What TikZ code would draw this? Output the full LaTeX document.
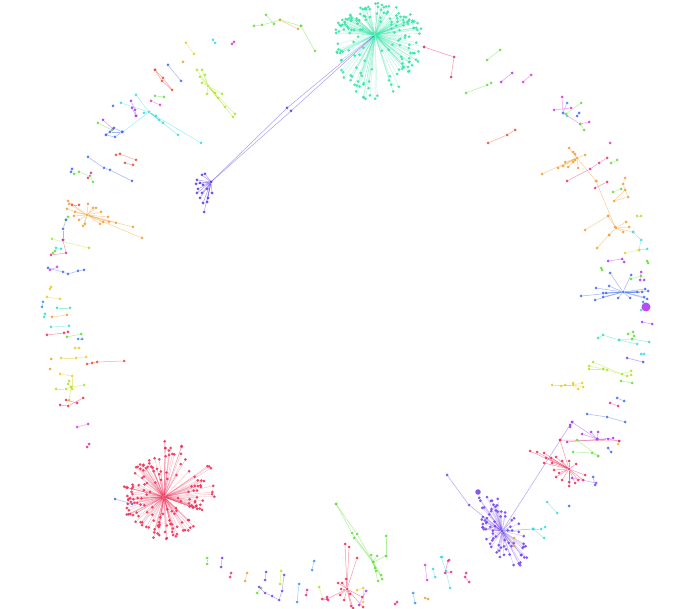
\documentclass[tikz,border=0pt]{standalone}
\definecolor{cTeal}{RGB}{55,229,170}
\definecolor{cRed}{RGB}{240,50,90}
\definecolor{cRedOr}{RGB}{240,80,60}
\definecolor{cPurple}{RGB}{120,70,240}
\definecolor{cPurple2}{RGB}{95,60,230}
\definecolor{cViolet}{RGB}{175,60,240}
\definecolor{cOrange}{RGB}{245,160,55}
\definecolor{cBlue}{RGB}{70,110,240}
\definecolor{cSky}{RGB}{60,150,240}
\definecolor{cCyan}{RGB}{60,220,230}
\definecolor{cGreen}{RGB}{100,225,60}
\definecolor{cYG}{RGB}{175,230,40}
\definecolor{cYellow}{RGB}{235,205,40}
\definecolor{cMag}{RGB}{225,60,220}
\definecolor{cMag2}{RGB}{240,50,140}
\tikzset{
  dot/.style={circle,inner sep=0pt,minimum size=3pt,fill=#1,fill opacity=0.9},
  edge/.style={draw=#1,draw opacity=0.5,line width=0.5pt},
  sedge/.style={draw=#1,draw opacity=0.35,line width=0.4pt}
}
\newcount\gc
\newcommand\C[2]{%
  \global\advance\gc by 1
  \foreach \x/\y [count=\k] in {#2} {%
    \node[dot=#1] (c\the\gc n\k) at (\x,\y) {};
    \ifnum\k>1
      \pgfmathtruncatemacro\pk{\k-1}
      \draw[edge=#1] (c\the\gc n\pk) -- (c\the\gc n\k);
    \fi
  }}
\newcommand\St[3]{%
  \global\advance\gc by 1
  \node[dot=#1] (s\the\gc) at (#2) {};
  \foreach \x/\y [count=\k] in {#3} {%
    \node[dot=#1] (s\the\gc l\k) at (\x,\y) {};
    \draw[edge=#1] (s\the\gc) -- (s\the\gc l\k);
  }}
\begin{document}
\begin{tikzpicture}[x=1pt,y=-1pt]
\fill[white] (0,0) rectangle (688,609);
\useasboundingbox (0,0) rectangle (688,609);

% ---------- teal star
\node[dot=cTeal] (T) at (375,35) {};
\pgfmathsetseed{3}
\foreach \k in {1,...,170}{%
  \pgfmathsetmacro\a{rnd*360}%
  \pgfmathsetmacro\r{12+sqrt(rnd)*38}%
  \pgfmathsetmacro\px{375+\r*cos(\a)*(cos(\a)>0?0.95:0.8)}%
  \pgfmathsetmacro\py{35+\r*sin(\a)*(sin(\a)>0?1.35:0.64)}%
  \node[dot=cTeal] (T\k) at (\px,\py) {};
  \draw[sedge=cTeal] (T) -- (T\k);
}
\node[dot=cTeal] (Tr) at (424,47) {};
\draw[sedge=cTeal] (T) -- (Tr);
\C{cRed}{424/47,454/57,451/77}

% ---------- red star
\node[dot=cRed] (R) at (164,497) {};
\foreach \k in {1,...,160}{%
  \pgfmathsetmacro\a{rnd*360}%
  \pgfmathsetmacro\r{10+sqrt(rnd)*32}%
  \pgfmathsetmacro\f{1+0.35*(cos(\a)>0)*(sin(\a)<0)}%
  \pgfmathsetmacro\px{164+\r*\f*cos(\a)}%
  \pgfmathsetmacro\py{497+\r*\f*sin(\a)}%
  \node[dot=cRed] (R\k) at (\px,\py) {};
  \draw[sedge=cRed] (R) -- (R\k);
}
\node[dot=cRed] (Rb) at (128,500) {};
\draw[sedge=cRed] (R) -- (Rb);
\C{cBlue}{115/499,132/504}

% ---------- purple star
\node[dot=cPurple] (P) at (502,531) {};
\foreach \k in {1,...,75}{%
  \pgfmathsetmacro\a{rnd*360}%
  \pgfmathsetmacro\r{8+sqrt(rnd)*33}%
  \pgfmathsetmacro\u{\r*cos(\a)}%
  \pgfmathsetmacro\v{\r*sin(\a)*0.45}%
  \pgfmathsetmacro\px{502-0.5*\u+0.866*\v}%
  \pgfmathsetmacro\py{531-0.866*\u-0.5*\v}%
  \node[dot=cPurple] (P\k) at (\px,\py) {};
  \draw[sedge=cPurple] (P) -- (P\k);
}
\node[dot=cPurple,minimum size=5.5pt] (Pbig) at (478,492) {};
\node[dot=cPurple] (Pa) at (469,505) {};
\node[dot=cPurple] (Pb) at (447,475) {};
\node[dot=cPurple] (Pc) at (570,425) {};
\draw[edge=cPurple] (Pb) -- (Pa) -- (P);
\draw[edge=cPurple] (P) -- (Pc);
\C{cCyan}{547/502,557/513}
\C{cBlue}{569/506}
\C{cBlue}{502/531,533/529}
\C{cCyan}{533/529,541/529,545/527}
\C{cCyan}{533/529,544/538}
\C{cOrange}{514/538}
\C{cOrange}{514/546}
\C{cCyan}{442/557}
\C{cMag}{449/560}

% ---------- small purple star and long links
\St{cPurple2}{211,182}{205/174,202/175,197/180,200/183,196/184,203/185,198/189,207/189,212/193,200/198,208/198,203/203,207/202,204/212,202/193,197/193}
\node[dot=cPurple2] (Q) at (211,182) {};
\node[dot=cPurple2] (Qa) at (287,108) {};
\node[dot=cPurple2] (Qb) at (291,111) {};
\draw[edge=cPurple2] (Q) -- (Qa) -- (T);
\draw[edge=cPurple2] (Q) -- (Qb) -- (T);

% ---------- top
\C{cGreen}{254/26,262/25,280/20,301/26}
\C{cOrange}{280/20,298/29}
\C{cGreen}{266/15,274/24}
\C{cGreen}{301/26,315/51}
\C{cYellow}{186/43,194/54}
\C{cOrange}{183/62}
\C{cCyan}{213/40,215/43}
\C{cMag}{232/44,234/42}
\C{cRedOr}{155/70,163/78,172/90,162/81,155/70}
\C{cBlue}{168/65,181/81}
\St{cYG}{208,86}{197/70,202/70,205/75,200/77,202/83,207/94,215/93,218/98,222/94,225/107,235/114,233/117}
\St{cCyan}{149,112}{136/95,121/103,144/113,156/116,159/120,163/123,178/135,201/143,123/132}
\C{cViolet}{131/101,135/110,136/116}
\C{cViolet}{132/108,136/116}
\C{cGreen}{155/96,164/97}
\C{cMag}{151/101,160/105}
\C{cBlue}{113/106}
\C{cBlue}{106/135,114/128,122/132,115/137,106/135}
\C{cBlue}{110/132,122/132}
\C{cViolet}{103/120,113/129}
\C{cGreen}{98/123,112/130}
\C{cRedOr}{116/155,120/154,136/160}
\C{cRedOr}{125/163,133/165}
\C{cBlue}{88/157,104/168,110/170,132/181}
\C{cBlue}{72/169,71/172}
\C{cGreen}{74/174,79/172,90/176,93/182}
\C{cMag2}{91/173,88/178}

% ---------- left
\St{cOrange}{87,215}{68/201,69/204,88/204,93/208,96/208,101/212,108/217,109/222,116/223,133/227,142/238,67/209,75/212,74/216,79/220,85/224,83/226,100/224,103/222}
\C{cRedOr}{72/205,79/205}
\C{cGreen}{68/217,66/220}
\C{cBlue}{66/220,63/229,63/240}
\C{cMag2}{63/240,66/253,51/255}
\C{cGreen}{53/253,55/251}
\C{cCyan}{56/248,61/249}
\C{cYG}{52/239,89/248}
\C{cBlue}{48/268,63/272,68/274,78/271,84/270}
\C{cMag}{50/270,57/267}
\C{cYellow}{51/287,50/289}
\C{cYellow}{47/297,60/299}
\C{cSky}{43/302,42/307}
\C{cTeal}{57/308,70/308}
\C{cCyan}{45/314,44/317}
\C{cOrange}{52/317,67/315}
\C{cCyan}{51/327,69/326}
\C{cRed}{47/335,64/333,68/332}
\C{cGreen}{67/337,81/334}
\C{cSky}{78/339,82/339}
\C{cYellow}{75/348,79/348}
\C{cOrange}{51/359}
\C{cYellow}{61/358,76/358,86/357}
\C{cRedOr}{87/364,92/363,97/362,124/361}
\C{cOrange}{50/369}
\C{cYellow}{60/374,72/376,72/389}
\C{cYG}{56/389,66/389,71/387,84/385}
\C{cYG}{69/381,68/384,71/387,69/400}
\C{cRed}{60/405,68/406,83/398}
\C{cRed}{66/400,77/403}
\C{cMag}{77/427,88/424}
\C{cMag2}{87/447,89/444}

% ---------- bottom
\C{cGreen}{207/558,207/564}
\C{cPurple}{222/558,221/567}
\C{cMag2}{231/573,230/577}
\C{cOrange}{247/573,245/581}
\C{cPurple}{266/572,265/580}
\C{cGreen}{257/593,261/588}
\C{cPurple}{259/587,265/593,272/596,279/600,282/591,284/575}
\C{cYG}{281/571,280/584}
\C{cSky}{299/584,297/602}
\C{cSky}{314/561,312/570}
\C{cMag2}{307/590,306/595}
\C{cYG}{319/587,323/599}
\C{cMag2}{327/597,322/599,328/600}
\C{cGreen}{336/504,352/533,373/562}
\C{cGreen}{336/504,357/534,373/562}
\C{cGreen}{354/538,373/562}
\St{cGreen}{373,562}{371/555,377/556,386/556,375/568,376/571,381/575,378/581,382/579}
\C{cGreen}{386/536,386/556}
\St{cRed}{347,589}{345/544,349/547,357/558,346/579,338/583,342/583,341/589,327/599,340/595,344/600,350/594,351/606,353/608,363/607,362/597}
\C{cYellow}{357/590,363/588,363/602}
\C{cViolet}{366/591,359/605}
\C{cMag}{425/565,427/580}
\C{cCyan}{433/569,435/577}
\C{cCyan}{441/557,446/571,450/588}
\C{cMag2}{448/561,445/573,451/572}
\C{cMag2}{466/573,465/577,469/582}
\C{cSky}{413/593,415/603}
\C{cOrange}{425/598,428/599}
\C{cMag2}{395/604,397/602}

% ---------- right lower
\St{cYellow}{573,385}{552/385,561/386,565/385,578/389,583/387,582/383,573/383}
\C{cGreen}{621/381,632/383}
\C{cBlue}{617/398,624/401}
\C{cMag2}{610/403,618/406}
\C{cBlue}{587/414,607/417,625/422}
\C{cViolet}{572/422,597/439,608/439,619/441}
\C{cViolet}{570/427,572/422}
\C{cViolet}{591/432,597/439}
\C{cViolet}{598/432,597/439}
\C{cViolet}{582/434,597/439}
\C{cViolet}{567/442,613/438}
\C{cRed}{560/440,619/441}
\C{cBlue}{608/448,611/452}
\C{cYellow}{618/444}
\C{cGreen}{577/440,598/456}
\C{cGreen}{573/452,592/453,598/456}
\St{cRed}{569,469}{530/451,537/452,544/453,546/458,551/458,556/457,544/463,552/463,562/461,569/461,576/464,554/470,556/477,562/480,569/482,569/486,578/480,583/480,585/475,575/483,559/473,560/440}
\C{cBlue}{593/477,595/485}
\C{cViolet}{596/483,572/478}

% ---------- right middle
\St{cBlue}{623,292}{610/273,631/275,596/288,609/286,581/296,595/300,603/293,603/297,618/298,630/298,637/292,642/292,645/289,648/291,644/297,647/299,606/293}
\C{cViolet}{641/272,640/280}
\C{cGreen}{641/276,631/279}
\C{cViolet}{644/280}
\node[dot=cViolet,minimum size=9pt] (bigv) at (646,307) {};
\C{cSky}{643/302}
\C{cCyan}{641/310}
\C{cViolet}{642/322,652/324}
\C{cTeal}{598/338,603/335,619/340,632/339,649/342}
\C{cCyan}{637/344,619/340}
\C{cGreen}{628/334,633/332,634/336,632/339}
\C{cCyan}{641/354,644/354}
\C{cPurple}{627/358,643/362}
\C{cYG}{593/362,622/374,631/371}
\C{cYG}{589/366,603/369,607/370,627/376,631/375}
\C{cYG}{589/369,603/369}

% ---------- right upper
\C{cMag}{562/97,563/113,580/124,589/122}
\C{cSky}{567/103,563/113}
\C{cMag}{554/110,571/108}
\C{cGreen}{566/114,581/103}
\C{cBlue}{579/113,577/116}
\C{cCyan}{567/116}
\C{cGreen}{580/124,584/130}
\C{cMag}{610/143}
\St{cOrange}{577,158}{569/148,573/152,575/154,585/155,565/162,568/167,578/168,542/174,558/168,563/166,573/162,575/160,596/181}
\C{cMag2}{567/181,590/169,599/163,607/158}
\C{cGreen}{611/163,617/160}
\C{cOrange}{596/181,615/227}
\C{cMag2}{595/188,607/182}
\C{cOrange}{625/178,623/184,628/197,614/201,625/190}
\C{cGreen}{621/189,613/192}
\C{cYG}{637/216,641/216}
\St{cOrange}{616,228}{608/216,626/222,629/227,623/232,609/235,633/232}
\C{cOrange}{608/216,585/230}
\C{cOrange}{609/235,597/248}
\C{cCyan}{633/232,641/240,639/250,647/249}
\C{cYellow}{639/250,625/253}
\C{cViolet}{608/261,622/259,624/262}
\C{cGreen}{601/268,602/270}
\C{cGreen}{647/261,648/263}

% ---------- top right
\C{cGreen}{487/60,500/50}
\C{cViolet}{501/82,512/73}
\C{cMag}{523/82,531/75}
\C{cGreen}{466/93,487/85,491/83}
\C{cRedOr}{488/143,507/135,515/130}
\end{tikzpicture}
\end{document}
